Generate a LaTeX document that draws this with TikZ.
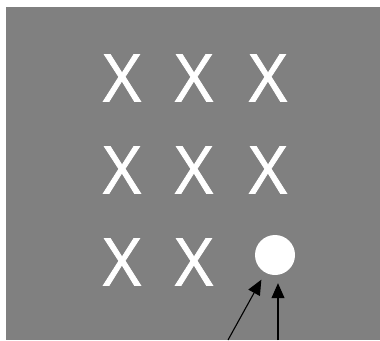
\documentclass[tikz,border=0pt]{standalone}
\usepackage{fontspec}
\setmainfont{Open Sans}
\newfontfamily\letterfont[FakeBold=1.2]{Open Sans}
\usetikzlibrary{arrows.meta}
\definecolor{bggray}{RGB}{128,128,128}

\begin{document}
\begin{tikzpicture}[x=1pt, y=-1pt, >={Triangle[length=15pt, width=13pt]},
  letter/.style={text=white, inner sep=0pt, font=\letterfont\fontsize{66}{66}\selectfont},
  target/.style={circle, fill=white, minimum size=40pt, inner sep=0pt},
  pointer/.style={->, line width=1.1pt, shorten >=8pt}]
\useasboundingbox (0,0) rectangle (380,340);
\fill[bggray] (6,7) rectangle (380,340);
\node[letter] (x11) at (122,78) {X};
\node[letter] (x12) at (194,78) {X};
\node[letter] (x13) at (268,78) {X};
\node[letter] (x21) at (122,170) {X};
\node[letter] (x22) at (194,170) {X};
\node[letter] (x23) at (268,170) {X};
\node[letter] (x31) at (122,262) {X};
\node[letter] (x32) at (194,262) {X};
\node[target] (dot) at (275,255) {};
\coordinate (from1) at (228,340);
\coordinate (from2) at (278,340);
\draw[pointer] (from1) -- (dot);
\draw[pointer] (from2) -- (from2 |- dot.south);
\end{tikzpicture}
\end{document}
